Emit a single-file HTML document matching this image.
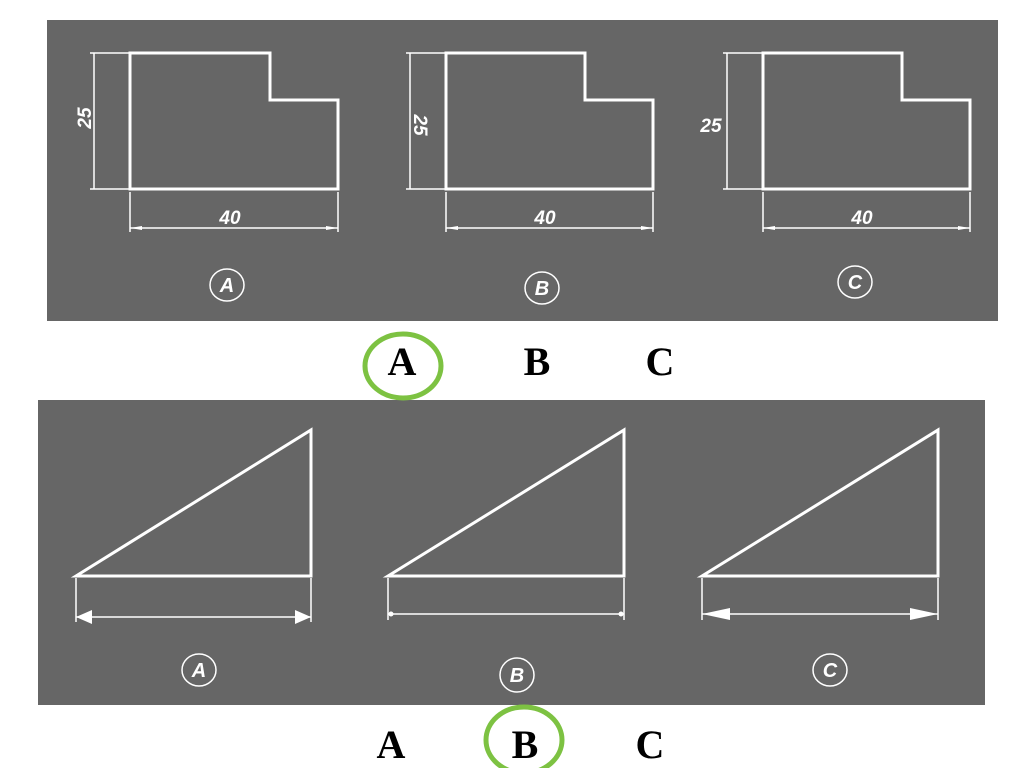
<!DOCTYPE html>
<html><head><meta charset="utf-8"><style>
html,body{margin:0;padding:0;background:#fff;width:1024px;height:768px;overflow:hidden}
</style></head><body>
<svg width="1024" height="768" viewBox="0 0 1024 768" xmlns="http://www.w3.org/2000/svg">
<rect x="47" y="20" width="951" height="301" fill="#666"/>
<rect x="38" y="400" width="947" height="305" fill="#666"/>
<g fill="none" stroke="#fff" stroke-width="3">
<path d="M130 53H270V100H338V189H130Z"/>
<path d="M446 53H585V100H653V189H446Z"/>
<path d="M763 53H902V100H970V189H763Z"/>
<path d="M76 576L311 430V576Z"/>
<path d="M388 576L624 430V576Z"/>
<path d="M702 576L938 430V576Z"/>
</g>
<g fill="none" stroke="#fff" stroke-width="1.5">
<path d="M90 53H130M90 189H130M94 53V189"/>
<path d="M130 192V232M338 192V232M130 228H338"/>
<path d="M406 53H446M406 189H446M410 53V189"/>
<path d="M446 192V232M653 192V232M446 228H653"/>
<path d="M723 53H763M723 189H763M727 53V189"/>
<path d="M763 192V232M970 192V232M763 228H970"/>
<path d="M76 578V622M311 578V622M76 617H311"/>
<path d="M388 578V620M624 578V620M388 614H624"/>
<path d="M702 578V620M938 578V620M702 614H938"/>
</g>
<g fill="#fff">
<path d="M76 617L92 610V624Z"/><path d="M311 617L295 610V624Z"/>
<path d="M702 614L730 608V620Z"/><path d="M938 614L910 608V620Z"/>
<circle cx="391" cy="614" r="2.5"/><circle cx="621" cy="614" r="2.5"/>
<path d="M130 228L142 226V230Z"/><path d="M338 228L326 226V230Z"/>
<path d="M446 228L458 226V230Z"/><path d="M653 228L641 226V230Z"/>
<path d="M763 228L775 226V230Z"/><path d="M970 228L958 226V230Z"/>
</g>
<g fill="#fff" font-family="Liberation Sans, sans-serif" font-weight="bold" font-style="italic" font-size="19" text-anchor="middle">
<text x="230" y="224">40</text><text x="545" y="224">40</text><text x="862" y="224">40</text>
<text transform="translate(91 118) rotate(-90)">25</text>
<text transform="translate(414 125) rotate(90)">25</text>
<text x="711" y="132">25</text>
</g>
<g fill="none" stroke="#fff" stroke-width="1.5">
<ellipse cx="227" cy="285" rx="17" ry="16"/>
<ellipse cx="542" cy="288" rx="17" ry="16"/>
<ellipse cx="855" cy="282" rx="17" ry="16"/>
<ellipse cx="199" cy="670" rx="17" ry="16"/>
<ellipse cx="517" cy="675" rx="17" ry="17"/>
<ellipse cx="830" cy="670" rx="17" ry="16"/>
</g>
<g fill="#fff" font-family="Liberation Sans, sans-serif" font-weight="bold" font-style="italic" font-size="20" text-anchor="middle">
<text x="227" y="292">A</text><text x="542" y="295">B</text><text x="855" y="289">C</text>
<text x="199" y="677">A</text><text x="517" y="682">B</text><text x="830" y="677">C</text>
</g>
<g fill="#000" font-family="Liberation Serif, serif" font-weight="bold" font-size="40" text-anchor="middle">
<text x="402" y="375">A</text><text x="537" y="375">B</text><text x="660" y="375">C</text>
<text x="391" y="758">A</text><text x="525" y="758">B</text><text x="650" y="758">C</text>
</g>
<g fill="none" stroke="#7dc242" stroke-width="5">
<ellipse cx="403" cy="366" rx="38" ry="32"/>
<ellipse cx="524" cy="740" rx="38" ry="33"/>
</g>
</svg>
</body></html>
